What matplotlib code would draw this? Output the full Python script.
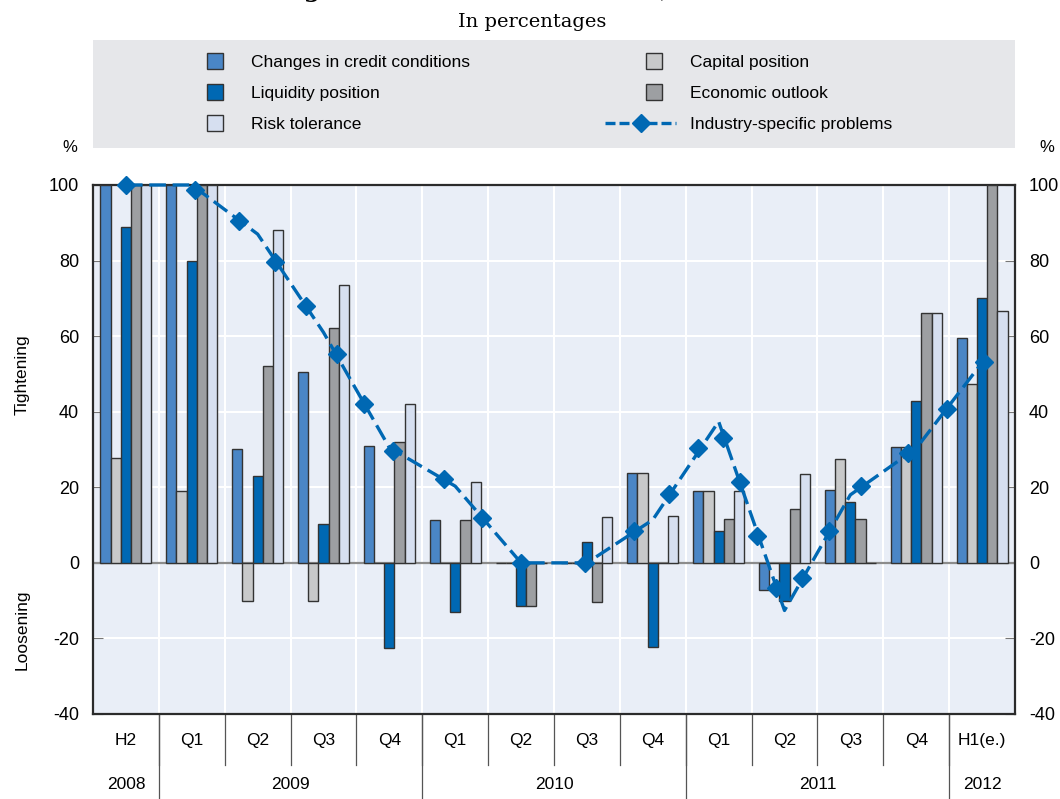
import matplotlib
matplotlib.use('Agg')
import matplotlib.pyplot as plt
import matplotlib.transforms as mtransforms
from matplotlib.patches import Rectangle
from matplotlib.lines import Line2D
from matplotlib.legend_handler import HandlerPatch
import numpy as np

periods = ['H2', 'Q1', 'Q2', 'Q3', 'Q4', 'Q1', 'Q2', 'Q3', 'Q4', 'Q1', 'Q2', 'Q3', 'Q4', 'H1(e.)']
years = ['2008', '2009', '2010', '2011', '2012']
year_len = [1, 4, 4, 4, 1]

credit = [100, 100, 30, 50.6, 31, 11.3, 0, 0, 23.9, 18.9, -7.1, 19.3, 30.6, 59.5]
capital = [27.7, 18.9, -10, -10, 0, 0, 0, 0, 23.9, 18.9, 0, 27.4, 30.6, 47.3]
liquidity = [89, 80, 23, 10.3, -22.5, -13, -11.4, 5.5, -22.3, 8.3, -10.2, 16, 42.9, 70]
economic = [100, 100, 52, 62.1, 32.1, 11.4, -11.4, -10.3, 0, 11.6, 14.3, 11.6, 66.1, 100]
risk = [100, 100, 88, 73.6, 42, 21.3, 0, 12.1, 12.3, 18.9, 23.5, 0, 66.1, 66.7]
industry = [100, 100, 87, 61, 30.5, 20.3, 0, 0, 11.4, 37.4, -12.6, 18, 30.3, 53]
# the diamonds in the original sit at their own spots along the line
ind_mark_x = [0, 1.05, 1.72, 2.27, 2.74, 3.2, 3.61, 4.06, 4.83, 5.41, 6.0, 6.97, 7.72, 8.24,
              8.69, 9.07, 9.32, 9.59, 9.87, 10.27, 10.68, 11.16, 11.87, 12.46, 13.03]
ind_mark_y = [100, 98.8, 90.6, 79.5, 68, 55.3, 42, 29.6, 22.2, 12, 0, 0, 8.3, 18.2,
              30.3, 33, 21.4, 7.1, -6.7, -4, 8.3, 20.4, 29, 40.7, 53.1]

plt.rcParams['font.family'] = ['Liberation Sans', 'DejaVu Sans']
plt.rcParams['axes.unicode_minus'] = False

c_credit = '#4a86c6'
c_capital = '#c8c9ca'
c_liq = '#0068b3'
c_econ = '#9d9fa2'
c_risk = '#d6dff0'
edge = '#333333'

fig = plt.figure(figsize=(10.6, 7.99), dpi=100)
W, H = 1060, 799
ax = fig.add_axes([93 / W, 1 - 714 / H, (1015 - 93) / W, (714 - 185) / H])
ax.set_facecolor('#e9eef7')

x = np.arange(len(periods))
w = 0.155
series = [credit, capital, liquidity, economic, risk]
colors = [c_credit, c_capital, c_liq, c_econ, c_risk]
names = ['Changes in credit conditions', 'Capital position', 'Liquidity position',
         'Economic outlook', 'Risk tolerance']
for k, (vals, col, nm) in enumerate(zip(series, colors, names)):
    ax.bar(x + (k - 2) * w, vals, w, color=col, edgecolor=edge, linewidth=1.0,
           label=nm, zorder=3)

ax.axhline(0, color='#8c8c8c', lw=1.6, zorder=2)
ax.plot(x, industry, color=c_liq, lw=2.4, dashes=(5, 2), zorder=4, clip_on=False)
ax.plot(ind_mark_x, ind_mark_y, ls='none', marker='D', ms=9, color=c_liq, zorder=5,
        clip_on=False)

ax.set_xlim(-0.5, len(periods) - 0.5)
ax.set_ylim(-40, 100)
ax.set_yticks(np.arange(-40, 101, 20))
ax.set_xticks(x, periods)
ax.set_xticks(np.arange(len(periods) + 1) - 0.5, minor=True)
ax.set_axisbelow(True)
ax.grid(which='minor', axis='x', color='white', lw=1.5)
ax.grid(which='major', axis='y', color='white', lw=1.5)
ax.tick_params(axis='x', which='both', length=0, pad=14, labelsize=12.5)
ax.tick_params(axis='y', left=True, right=True, labelleft=True, labelright=True,
               direction='in', length=7, color='#777777', pad=10, labelsize=13)
for s in ax.spines.values():
    s.set_color('#2b2b2b')
    s.set_linewidth(1.6)

# separators of the period / year table under the axis
trans = mtransforms.blended_transform_factory(ax.transData, ax.transAxes)
for b in np.arange(len(periods) - 1) + 0.5:
    ax.plot([b, b], [0, -0.097], transform=trans, color='#555555', lw=0.9, clip_on=False)
start = 0
for yr, n in zip(years, year_len):
    ax.text(start + (n - 1) / 2, -0.134, yr, transform=trans, ha='center', va='center',
            fontsize=12.5)
    if start > 0:
        ax.plot([start - 0.5, start - 0.5], [0, -0.2], transform=trans, color='#555555',
                lw=0.9, clip_on=False)
    start += n

fig.text(22 / W, 1 - 375 / H, 'Tightening', rotation=90, ha='center', va='center', fontsize=12.5)
fig.text(22 / W, 1 - 630 / H, 'Loosening', rotation=90, ha='center', va='center', fontsize=12.5)
fig.text(70 / W, 1 - 147 / H, '%', ha='center', va='center', fontsize=12)
fig.text(1047 / W, 1 - 147 / H, '%', ha='center', va='center', fontsize=12)

fig.text(0.502, 1 + 3 / H, 'Figure 1.3. Credit conditions, 2008-12', ha='center',
         va='baseline', fontsize=17, fontweight='bold', family=['DejaVu Serif'])
fig.text(0.502, 1 - 22 / H, 'In percentages', ha='center', va='center', fontsize=14,
         family=['DejaVu Serif'])

fig.patches.append(Rectangle((93 / W, 1 - 148 / H), (1015 - 93) / W, 108 / H,
                             transform=fig.transFigure, facecolor='#e6e7ea',
                             edgecolor='none', zorder=0))


def square(legend, orig_handle, xdescent, ydescent, width, height, fontsize):
    s = 11.5
    return Rectangle((-xdescent + width / 2 + 10 - s / 2, -ydescent + height / 2 - s / 2),
                     s, s)


proxies = [Rectangle((0, 0), 1, 1, facecolor=c, edgecolor=edge, linewidth=1.0) for c in colors]
hmap = {Rectangle: HandlerPatch(patch_func=square)}
ind_handle = Line2D([], [], color=c_liq, lw=2.4, dashes=(3, 1.2), marker='D', ms=9)
common = dict(frameon=False, fontsize=12.5, handlelength=4.1, handletextpad=0.8,
              labelspacing=0.9, borderpad=0, borderaxespad=0, handler_map=hmap,
              loc='upper left')
fig.legend([proxies[0], proxies[2], proxies[4]], [names[0], names[2], names[4]],
           bbox_to_anchor=(166 / W, 1 - 55 / H), **common)
fig.legend([proxies[1], proxies[3], ind_handle], [names[1], names[3], 'Industry-specific problems'],
           bbox_to_anchor=(605 / W, 1 - 55 / H), **common)

fig.savefig('out.png', dpi=100)
